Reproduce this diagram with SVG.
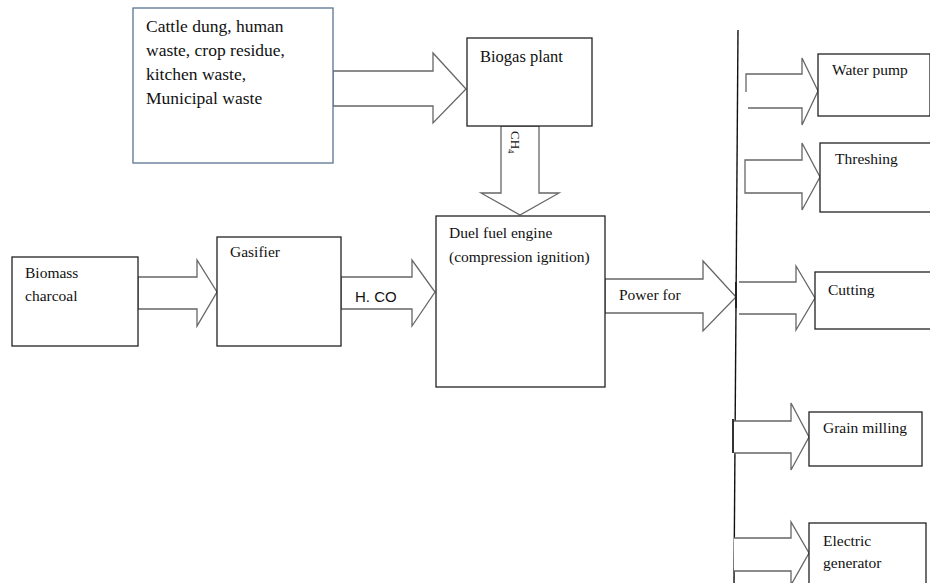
<svg xmlns="http://www.w3.org/2000/svg" width="930" height="583" viewBox="0 0 930 583">
<style>
.box{fill:#fff;stroke:#222;stroke-width:1.3}
.arr{fill:#fff;stroke:#666;stroke-width:1.3;stroke-linejoin:miter}
.t{font-family:"Liberation Serif","Times New Roman",serif;font-size:15.5px;fill:#111}
.big{font-size:17.5px}
.s{font-family:"Liberation Sans",Arial,sans-serif;font-size:15px;fill:#111}
</style>
<rect width="930" height="583" fill="#fff"/>
<g id="connectors">
<path class="arr" d="M333,71 H433 V53 L466,89 L433,123 V106 H333 Z"/>
<path class="arr" d="M501,126 V193 H481 L520,215 L559,193 H539 V126 Z"/>
<path class="arr" d="M138,277 H197 V260 L217,292 L197,326 V309 H138 Z"/>
<path class="arr" d="M341,277 H412 V260 L435,292 L412,326 V309 H341 Z"/>
<path class="arr" d="M605,279 H703 V261 L736,297 L703,331 V313 H605 Z"/>
<line x1="738" y1="30" x2="734" y2="583" stroke="#111" stroke-width="1.4"/>
<path class="arr" d="M746,92 V74 H802 V58 L818,91 L802,125 V108 H748"/>
<path class="arr" d="M745,160 H802 V143 L820,177 L802,210 V193 H745 Z"/>
<path class="arr" d="M739,282 H796 V266 L815,298 L796,330 V314 H739"/>
<line x1="736" y1="282" x2="736" y2="308" stroke="#222" stroke-width="2"/>
<path class="arr" d="M734,421 H791 V403 L809,437 L791,470 V453 H734"/>
<line x1="733" y1="419" x2="733" y2="453" stroke="#333" stroke-width="2"/>
<path class="arr" d="M734,538 H791 V522 L809,553 L791,585 V571 H734"/>
</g>
<g id="n-sources">
<rect x="133" y="8" width="200" height="155" fill="#fff" stroke="#5a7394" stroke-width="1.3"/>
<text class="t big" x="146" y="32">Cattle dung, human</text>
<text class="t big" x="146" y="56">waste, crop residue,</text>
<text class="t big" x="146" y="80">kitchen waste,</text>
<text class="t big" x="146" y="104">Municipal waste</text>
</g>
<g id="n-biogas">
<rect class="box" x="467" y="38" width="125" height="88"/>
<text class="t" style="font-size:16.5px" x="480" y="62">Biogas plant</text>
</g>
<g id="l-ch4">
<text class="t" style="font-size:13px" transform="translate(511,131) rotate(90)">CH<tspan style="font-size:9px" dy="3">4</tspan></text>
</g>
<g id="n-biomass">
<rect class="box" x="12" y="257" width="126" height="89"/>
<text class="t" x="25" y="278">Biomass</text>
<text class="t" x="25" y="301">charcoal</text>
</g>
<g id="n-gasifier">
<rect class="box" x="217" y="237" width="124" height="109"/>
<text class="t" x="230" y="257">Gasifier</text>
</g>
<g id="l-hco">
<text class="s" x="355" y="302">H. CO</text>
</g>
<g id="n-engine">
<rect class="box" x="436" y="216" width="169" height="171"/>
<text class="t" x="449" y="238">Duel fuel engine</text>
<text class="t" x="449" y="262">(compression ignition)</text>
</g>
<g id="l-power">
<text class="t" x="619" y="300">Power for</text>
</g>
<g id="n-water">
<rect class="box" x="818" y="54" width="112" height="62"/>
<text class="t" x="832" y="75">Water pump</text>
</g>
<g id="n-threshing">
<rect class="box" x="820" y="143" width="112" height="69"/>
<text class="t" x="835" y="164">Threshing</text>
</g>
<g id="n-cutting">
<rect class="box" x="815" y="272" width="117" height="57"/>
<text class="t" x="828" y="295">Cutting</text>
</g>
<g id="n-grain">
<rect class="box" x="809" y="412" width="113" height="54"/>
<text class="t" x="823" y="433">Grain milling</text>
</g>
<g id="n-generator">
<rect class="box" x="809" y="523" width="117" height="70"/>
<text class="t" x="823" y="546">Electric</text>
<text class="t" x="823" y="568">generator</text>
</g>
</svg>
